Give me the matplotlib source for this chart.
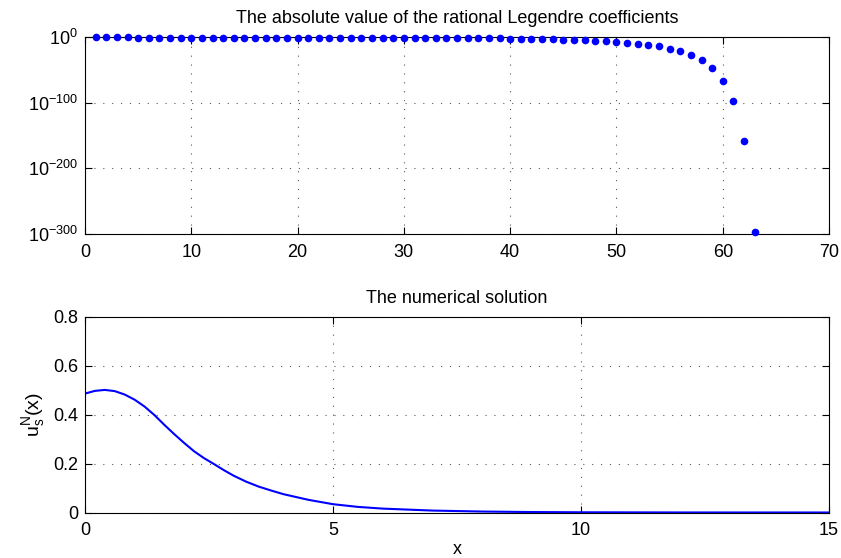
import numpy as np
import matplotlib
matplotlib.use('Agg')
from matplotlib import pyplot as plt

plt.rcParams['font.family'] = ['Liberation Sans', 'DejaVu Sans']
plt.rcParams['mathtext.fontset'] = 'custom'
plt.rcParams['mathtext.rm'] = 'Liberation Sans'
plt.rcParams['mathtext.it'] = 'Liberation Sans'
plt.rcParams['mathtext.default'] = 'regular'
plt.rcParams['font.size'] = 13

# Absolute value of the rational Legendre coefficients, index 1..63
coef_index = list(range(1, 64))
coef_abs = [
    5e-1, 4e-1, 3e-1, 3e-1, 2e-1, 2e-1, 2e-1, 1e-1, 1e-1, 1e-1,
    9e-2, 8e-2, 7e-2, 6e-2, 6e-2, 5e-2, 5e-2, 4e-2, 4e-2, 4e-2,
    3e-2, 3e-2, 3e-2, 3e-2, 2e-2, 2e-2, 2e-2, 2e-2, 2e-2, 2e-2,
    2e-2, 1e-2, 1e-2, 1e-2, 1e-2, 1e-2, 1e-2, 1e-2, 8e-3, 3e-3,
    2e-3, 8e-4, 6e-4, 3e-4, 8e-5, 3e-5, 8e-6, 3e-6, 3e-7, 2e-8,
    6e-10, 2e-11, 2e-12, 5e-15, 4e-19, 1e-22, 3e-28, 6e-36, 4e-48, 5e-67,
    2e-98, 1e-158, 5e-297,
]

# Numerical solution u_s^N(x)
sol_x = [0.0, 0.2, 0.4, 0.6, 0.8, 1.0, 1.2, 1.4, 1.6, 1.8,
         2.0, 2.2, 2.4, 2.6, 2.8, 3.0, 3.25, 3.5, 3.75, 4.0,
         4.5, 5.0, 5.5, 6.0, 7.0, 8.0, 9.0, 10.0, 12.0, 15.0]
sol_u = [0.486, 0.497, 0.501, 0.496, 0.482, 0.461, 0.433, 0.398, 0.358, 0.320,
         0.284, 0.250, 0.222, 0.198, 0.173, 0.150, 0.126, 0.106, 0.090, 0.075,
         0.052, 0.034, 0.023, 0.016, 0.008, 0.004, 0.002, 0.001, 0.0003, 0.0001]

grid_style = dict(color='0.35', linestyle=(0, (1, 7)), linewidth=0.8)

fig = plt.figure(figsize=(8.41, 5.58), dpi=100)

# Coefficients on a log scale
ax1 = fig.add_axes([0.1011, 0.5806, 0.8847, 0.3530])
ax1.semilogy(coef_index, coef_abs, 'o', color='#0000ff', markersize=5.5,
             markeredgewidth=0, clip_on=False, zorder=3)
ax1.set_xlim(0, 70)
ax1.set_ylim(1e-300, 1e0)
ax1.set_xticks(np.arange(0, 71, 10))
ax1.set_yticks([1e-300, 1e-200, 1e-100, 1e0])
ax1.set_yticklabels(['$10^{-300}$', '$10^{-200}$', '$10^{-100}$', '$10^{0}$'])
ax1.minorticks_off()
ax1.set_title('The absolute value of the rational Legendre coefficients', fontsize=13, pad=10)
ax1.grid(True, **grid_style)

# Solution curve
ax2 = fig.add_axes([0.1011, 0.0815, 0.8847, 0.3509])
ax2.plot(sol_x, sol_u, color='#0000ff', linewidth=1.5)
ax2.set_xlim(0, 15)
ax2.set_ylim(0, 0.8)
ax2.set_xticks([0, 5, 10, 15])
ax2.set_yticks([0, 0.2, 0.4, 0.6, 0.8])
ax2.set_yticklabels(['0', '0.2', '0.4', '0.6', '0.8'])
ax2.set_title('The numerical solution', fontsize=13, pad=10)
ax2.set_xlabel('x', labelpad=1)
ax2.set_ylabel('u$_s^N$(x)', labelpad=4, fontsize=14)
ax2.grid(True, **grid_style)

for ax in (ax1, ax2):
    ax.tick_params(direction='in', top=True, right=True, length=5, width=0.8, labelsize=13)
    ax.tick_params(axis='x', pad=7)
    ax.tick_params(axis='y', pad=5)
    for spine in ax.spines.values():
        spine.set_linewidth(0.8)
    ax.set_axisbelow(True)

plt.savefig('out.png', dpi=100)
plt.close()
